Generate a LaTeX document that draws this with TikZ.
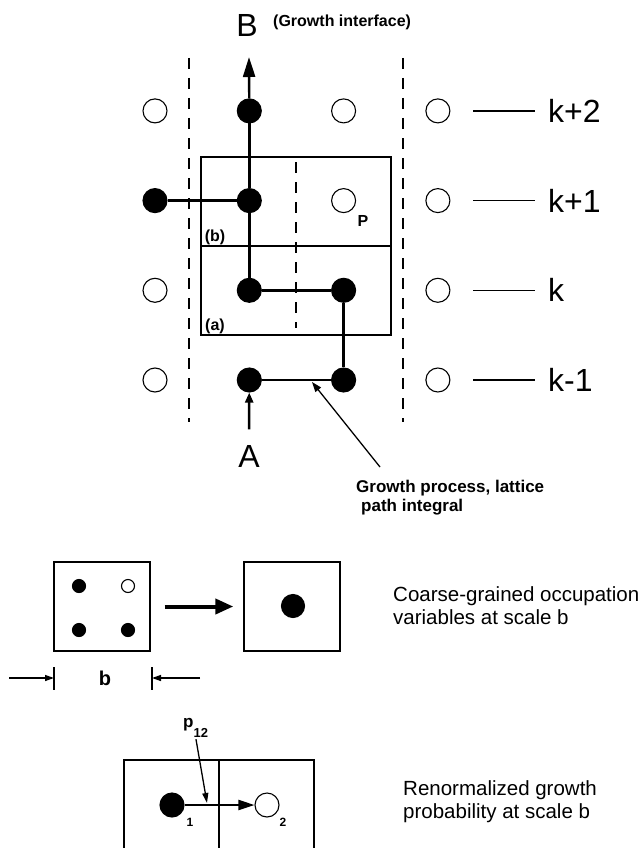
\documentclass[tikz,border=0pt]{standalone}
\usepackage{fontspec}
\setmainfont{Liberation Sans}
\usepackage{tikz}
\usetikzlibrary{arrows.meta, positioning}

\tikzset{
  site/.style={circle, draw, line width=1.1pt, minimum size=24pt, inner sep=0pt},
  occ/.style={site, fill=black},
  walk/.style={line width=2.4pt},
  cell/.style={line width=1.4pt},
  guide/.style={line width=1.2pt, dash pattern=on 11pt off 9pt},
  thin/.style={line width=1.3pt},
  lvl/.style={font=\fontsize{32}{32}\selectfont, anchor=west, inner sep=0pt},
  tag/.style={font=\bfseries\fontsize{16}{16}\selectfont, inner sep=0pt},
  note/.style={font=\fontsize{20.5}{23}\selectfont, align=left, anchor=north west, inner sep=0pt},
}

\begin{document}
\begin{tikzpicture}[x=1pt, y=-1pt]
  \useasboundingbox (0,0) rectangle (644,848);

  % Strip boundaries (dashed)
  \draw[guide] (189,58) -- (189,422);
  \draw[guide] (403,58) -- (403,422);
  \draw[guide] (296,162) -- (296,328);

  % Cells (a) and (b)
  \draw[cell] (201,157) rectangle (391,335);
  \draw[cell] (201,246) -- (391,246);
  \node[tag] (cb) at (215,237) {(b)};
  \node[tag] (ca) at (215,326) {(a)};

  % Lattice sites
  \foreach \c/\r/\s in {1/1/site, 2/1/occ, 3/1/occ, 4/1/site,
                        1/2/site, 2/2/occ, 3/2/occ, 4/2/site,
                        1/3/occ, 2/3/occ, 3/3/site, 4/3/site,
                        1/4/site, 2/4/occ, 3/4/site, 4/4/site}
    \node[\s] (s\c\r) at ({155+94.3*(\c-1)}, {380-89.7*(\r-1)}) {};
  \node[tag] (P) at (363,221) {P};

  % Growth path from A to B
  \draw[walk] (s21) -- (s31) -- (s32) -- (s22) -- (s23) -- (s24);
  \draw[walk] (s13) -- (s23);
  \coordinate (tipB) at (249,57);
  \draw[walk, -{Triangle[length=20pt, width=12pt]}] (s24) -- (tipB);
  \node[font=\fontsize{32}{32}\selectfont] (B) at (247,25) {B};
  \node[font=\bfseries\fontsize{16}{16}\selectfont, anchor=west, inner sep=0pt] (gi) at (273,22) {(Growth interface)};
  \node[font=\fontsize{32}{32}\selectfont] (A) at (249,456) {A};
  \draw[walk, -{Triangle[length=10pt, width=8pt]}, shorten <=12pt] (A.north) -- (s21);

  % Level labels
  \foreach \r/\t in {1/k-1, 2/k, 3/k+1, 4/k+2}
    \draw[thin] ([xshift=23pt]s4\r.east) -- ++(62,0) node[lvl, right=12pt] (l\r) {\t};

  % Pointer to the path
  \node[note, font=\bfseries\fontsize{17}{19}\selectfont] (gp) at (356,480)
    {Growth process, lattice\\\hspace*{5pt}path integral};
  \coordinate (gptail) at (380,467);
  \coordinate (onpath) at (312,382);
  \draw[thin, -{Triangle[length=10pt, width=7pt]}] (gptail) -- (onpath);

  % Coarse graining of a cell
  \node[draw, cell, minimum width=96pt, minimum height=89pt] (fine) at (102,606.5) {};
  \node[occ, minimum size=13pt] (d1) at (79,586) {};
  \node[site, minimum size=13pt] (d2) at (128,586) {};
  \node[occ, minimum size=13pt] (d3) at (79,630) {};
  \node[occ, minimum size=13pt] (d4) at (128,630) {};
  \node[draw, cell, minimum width=96pt, minimum height=89pt] (coarse) at (292,606.5) {};
  \node[occ, minimum size=23pt] (big) at (293,606) {};
  \draw[line width=4pt, -{Triangle[length=18pt, width=15pt]}]
    ([xshift=14pt]fine.east) -- ([xshift=-10pt]coarse.west);
  \node[note] (cg) at (393,586) {Coarse-grained occupation\\variables at scale b};

  % Scale b
  \coordinate (bl) at (54,678);
  \coordinate (br) at (152,678);
  \draw[thin] ([yshift=11pt]bl) -- ([yshift=-12pt]bl);
  \draw[thin] ([yshift=11pt]br) -- ([yshift=-12pt]br);
  \node[font=\bfseries\fontsize{20}{20}\selectfont] (bn) at (105,678) {b};
  \draw[thin, -{Triangle[length=9pt, width=6pt]}] (9,678) -- (bl);
  \draw[thin, -{Triangle[length=9pt, width=6pt]}] (200,678) -- (br);

  % Renormalized growth between two cells
  \draw[cell] (124,848) |- (314,760) -- (314,848);
  \draw[cell] (219,760) -- (219,848);
  \node[occ] (n1) at (172,805) {};
  \node[site] (n2) at (267,805) {};
  \draw[line width=2pt, -{Triangle[length=16pt, width=10pt]}] (n1) -- (n2);
  \node[font=\bfseries\fontsize{12}{12}\selectfont] (i1) at (190,822) {1};
  \node[font=\bfseries\fontsize{12}{12}\selectfont] (i2) at (283,822) {2};
  \node[font=\bfseries\fontsize{17}{17}\selectfont, anchor=base west, inner sep=0pt] (p12) at (183,727)
    {p\raisebox{-10pt}{\fontsize{13}{13}\selectfont 12}};
  \coordinate (onlink) at (207,803);
  \draw[thin, -{Triangle[length=10pt, width=6pt]}, shorten <=2pt] (p12.south) -- (onlink);
  \node[note] (rg) at (403,780) {Renormalized growth\\probability at scale b};
\end{tikzpicture}
\end{document}
